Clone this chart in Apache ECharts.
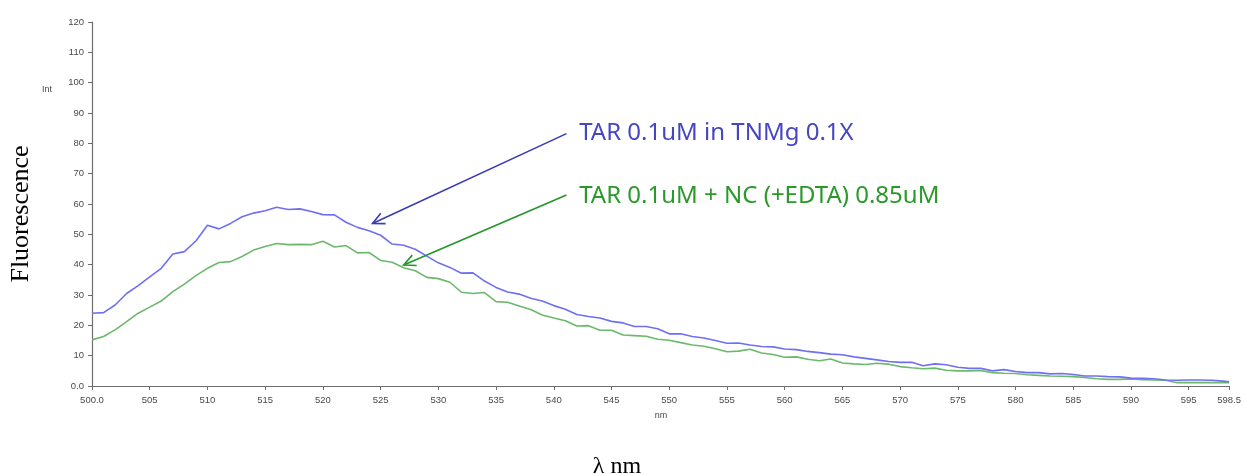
<!DOCTYPE html>
<html>
<head>
<meta charset="utf-8">
<script src="https://cdn.jsdelivr.net/npm/echarts@6/dist/echarts.min.js"></script>
<style>
  html, body { margin: 0; padding: 0; background: #fff; }
  #chart { width: 1244px; height: 474px; }
</style>
</head>
<body>
<div id="chart"></div>
<script>
// Emission wavelengths (nm)
const wavelength = [
  500, 501, 502, 503, 504, 505, 506, 507, 508, 509,
  510, 511, 512, 513, 514, 515, 516, 517, 518, 519,
  520, 521, 522, 523, 524, 525, 526, 527, 528, 529,
  530, 531, 532, 533, 534, 535, 536, 537, 538, 539,
  540, 541, 542, 543, 544, 545, 546, 547, 548, 549,
  550, 551, 552, 553, 554, 555, 556, 557, 558, 559,
  560, 561, 562, 563, 564, 565, 566, 567, 568, 569,
  570, 571, 572, 573, 574, 575, 576, 577, 578, 579,
  580, 581, 582, 583, 584, 585, 586, 587, 588, 589,
  590, 591, 592, 593, 594, 595, 596, 597, 598, 598.5
];

// TAR 0.1uM in TNMg 0.1X
const tarTNMg = [
  24.0, 24.2, 26.7, 30.5, 33.1, 36.0, 38.8, 43.5, 44.3, 47.8,
  53.0, 51.8, 53.6, 55.8, 57.0, 57.8, 58.9, 58.2, 58.4, 57.5,
  56.5, 56.4, 54.0, 52.3, 51.2, 49.7, 46.8, 46.4, 45.1, 42.8,
  40.6, 39.1, 37.2, 37.3, 34.6, 32.5, 31.0, 30.3, 28.9, 28.0,
  26.5, 25.3, 23.6, 22.9, 22.4, 21.3, 20.8, 19.6, 19.6, 18.9,
  17.2, 17.2, 16.3, 15.8, 15.0, 14.1, 14.2, 13.5, 13.0, 12.9,
  12.2, 12.0, 11.4, 11.0, 10.5, 10.3, 9.6, 9.1, 8.6, 8.1,
  7.8, 7.8, 6.7, 7.3, 7.0, 6.2, 5.8, 5.8, 5.0, 5.4,
  4.8, 4.4, 4.4, 4.0, 4.1, 3.8, 3.3, 3.3, 3.1, 3.0,
  2.6, 2.5, 2.4, 2.0, 1.9, 2.0, 2.0, 1.9, 1.6, 1.4
];

// TAR 0.1uM + NC (+EDTA) 0.85uM
const tarNC = [
  15.2, 16.3, 18.5, 21.2, 24.0, 26.0, 28.0, 31.1, 33.6, 36.4,
  38.8, 40.7, 41.0, 42.7, 44.8, 46.0, 47.0, 46.6, 46.7, 46.6,
  47.7, 45.8, 46.3, 43.9, 44.0, 41.4, 40.8, 39.0, 38.0, 35.8,
  35.4, 34.2, 30.9, 30.5, 30.8, 27.8, 27.6, 26.4, 25.2, 23.4,
  22.4, 21.5, 19.8, 19.9, 18.4, 18.4, 16.8, 16.6, 16.4, 15.4,
  15.1, 14.3, 13.5, 13.1, 12.3, 11.3, 11.5, 12.1, 10.9, 10.4,
  9.5, 9.6, 8.8, 8.3, 8.9, 7.6, 7.3, 7.1, 7.5, 7.2,
  6.4, 6.0, 5.7, 5.9, 5.2, 5.0, 5.0, 5.1, 4.4, 4.2,
  4.1, 3.7, 3.5, 3.3, 3.2, 3.1, 2.8, 2.4, 2.2, 2.2,
  2.3, 2.1, 2.0, 1.9, 1.1, 1.1, 1.1, 1.1, 1.1, 1.1
];

const seriesNames = ['TAR 0.1uM in TNMg 0.1X', 'TAR 0.1uM + NC (+EDTA) 0.85uM'];

// Callout anchors in data units: arrow tail, arrow tip, text start
const calloutTNMg = { tail: [541.1, 83.2], tip: [524.3, 53.6], text: [542.2, 83.4] };
const calloutNC   = { tail: [541.1, 63.0], tip: [527.0, 39.9], text: [542.2, 62.6] };

const BLUE_LINE = '#6f6ff2';
const GREEN_LINE = '#6cb86c';
const BLUE_TEXT = '#4646c4';
const GREEN_TEXT = '#2a992a';
const AXIS_COLOR = '#6e6e6e';
const LABEL_COLOR = '#4a4a4a';

const chart = echarts.init(document.getElementById('chart'), null, { renderer: 'canvas' });

const pairs = (xs, ys) => xs.map((x, i) => [x, ys[i]]);

chart.setOption({
  animation: false,
  backgroundColor: '#ffffff',
  grid: { left: 92, right: 14, top: 22, bottom: 88, containLabel: false },
  xAxis: {
    type: 'value',
    min: 500,
    max: 598.5,
    interval: 5,
    splitLine: { show: false },
    axisLine: { lineStyle: { color: AXIS_COLOR, width: 1.2 } },
    axisTick: { length: 4, lineStyle: { color: AXIS_COLOR } },
    axisLabel: {
      margin: 9,
      fontFamily: 'Liberation Sans',
      fontSize: 9.5,
      color: LABEL_COLOR,
      formatter: v => (v === 500 ? '500.0' : v === 598.5 ? '598.5' : String(v))
    }
  },
  yAxis: {
    type: 'value',
    min: 0,
    max: 120,
    interval: 10,
    splitLine: { show: false },
    axisLine: { show: true, lineStyle: { color: AXIS_COLOR, width: 1.2 } },
    axisTick: { show: true, length: 4, lineStyle: { color: AXIS_COLOR } },
    axisLabel: {
      margin: 8,
      fontFamily: 'Liberation Sans',
      fontSize: 9.5,
      color: LABEL_COLOR,
      formatter: v => (v === 0 ? '0.0' : String(v))
    }
  },
  series: [
    {
      name: seriesNames[1],
      type: 'line',
      data: pairs(wavelength, tarNC),
      showSymbol: false,
      lineStyle: { color: GREEN_LINE, width: 1.6 },
      z: 2
    },
    {
      name: seriesNames[0],
      type: 'line',
      data: pairs(wavelength, tarTNMg),
      showSymbol: false,
      lineStyle: { color: BLUE_LINE, width: 1.6 },
      z: 3
    }
  ]
});

// Callout line ending in an open arrowhead
function arrow(c, color) {
  const tail = chart.convertToPixel({ gridIndex: 0 }, c.tail);
  const tip = chart.convertToPixel({ gridIndex: 0 }, c.tip);
  const ang = Math.atan2(tail[1] - tip[1], tail[0] - tip[0]);
  const len = 13, spread = 0.45;
  const b1 = [tip[0] + len * Math.cos(ang - spread), tip[1] + len * Math.sin(ang - spread)];
  const b2 = [tip[0] + len * Math.cos(ang + spread), tip[1] + len * Math.sin(ang + spread)];
  return [
    { type: 'line', shape: { x1: tail[0], y1: tail[1], x2: tip[0], y2: tip[1] },
      style: { stroke: color, lineWidth: 1.6 }, z: 10 },
    { type: 'polyline', shape: { points: [b1, tip, b2] },
      style: { stroke: color, lineWidth: 1.6, fill: null }, z: 10 }
  ];
}

function callText(c, txt, color) {
  const p = chart.convertToPixel({ gridIndex: 0 }, c.text);
  return { type: 'text', x: p[0], y: p[1], z: 10,
    style: { text: txt, fill: color, fontFamily: 'Noto Sans', fontSize: 24,
             textAlign: 'left', textVerticalAlign: 'middle' } };
}

chart.setOption({
  graphic: [
    ...arrow(calloutTNMg, '#3a3ab4'),
    ...arrow(calloutNC, '#23962a'),
    callText(calloutTNMg, seriesNames[0], BLUE_TEXT),
    callText(calloutNC, seriesNames[1], GREEN_TEXT),
    { type: 'text', x: 47, y: 90, style: { text: 'Int', fill: LABEL_COLOR, fontFamily: 'Liberation Sans',
      fontSize: 9, textAlign: 'center', textVerticalAlign: 'middle' } },
    { type: 'text', x: 661, y: 416, style: { text: 'nm', fill: LABEL_COLOR, fontFamily: 'Liberation Sans',
      fontSize: 9, textAlign: 'center', textVerticalAlign: 'middle' } },
    { type: 'text', x: 21, y: 214, rotation: Math.PI / 2,
      style: { text: 'Fluorescence', fill: '#000', fontFamily: 'Liberation Serif', fontSize: 26,
               textAlign: 'center', textVerticalAlign: 'middle' } },
    { type: 'text', x: 617, y: 455,
      style: { text: 'λ nm', fill: '#000', fontFamily: 'Liberation Serif', fontSize: 24,
               textAlign: 'center', textVerticalAlign: 'top' } }
  ]
});
</script>
</body>
</html>
